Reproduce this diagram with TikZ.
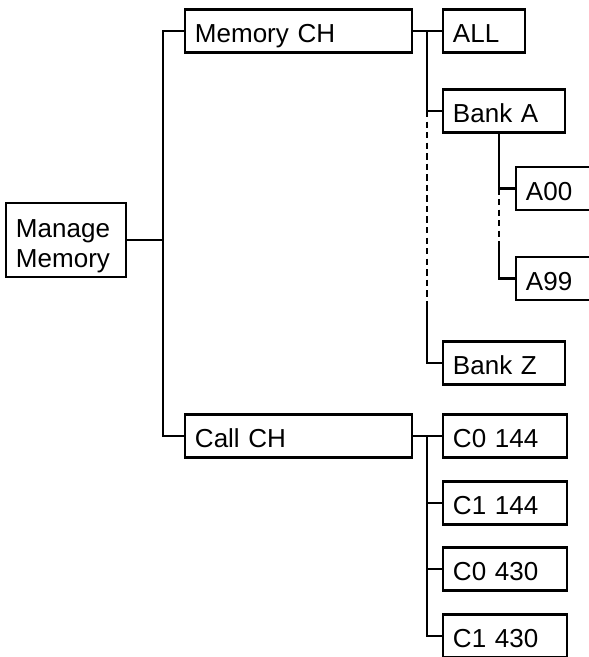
\documentclass[tikz,border=0pt]{standalone}
\usepackage{fontspec}
\setmainfont{Liberation Sans}
\usepackage{tikz}
\usetikzlibrary{positioning}
\tikzset{
    % Box styles - plain black frames, text flush left
    membox/.style={
        rectangle,
        draw=black,
        line width=1.9pt,
        inner xsep=0.25cm,
        inner ysep=0pt,
        text width=#1,
        minimum height=1.075cm,
        align=left,
        font=\fontsize{18.5}{21.5}\selectfont
    },
    membox/.default=2.55cm,
    oneline/.style={
        text height=16.5pt,
        text depth=0pt
    },
    % Connector styles
    treeline/.style={
        draw=black,
        line width=1.9pt
    },
    gapline/.style={
        treeline,
        dash pattern=on 4.5pt off 3pt
    }
}
\begin{document}
\begin{tikzpicture}[x=0.025cm, y=-0.025cm]
    \useasboundingbox (0,0) rectangle (589,657);
    \clip (0,0) rectangle (589,657);

    \node[membox=2.5cm, minimum height=1.85cm] (mng) at (66,240) {\rule{0pt}{21.5pt}Manage\\Memory};

    \node[membox=5.175cm, oneline] (memch) at (298.5,31) {Memory CH};
    \node[membox=5.175cm, oneline] (callch) at (298.5,436) {Call CH};

    \node[membox=1.55cm, oneline] (all) at (484,31) {ALL};
    \node[membox, oneline] (banka) at (504,111) {Bank A};
    \node[membox, oneline] (a00) at (577,188.5) {A00};
    \node[membox, oneline] (a99) at (577,278.5) {A99};
    \node[membox, oneline] (bankz) at (504,363) {Bank Z};

    \node[membox=2.6cm, oneline] (c0a) at (505,436) {C0 144};
    \node[membox=2.6cm, oneline] (c1a) at (505,503) {C1 144};
    \node[membox=2.6cm, oneline] (c0b) at (505,569) {C0 430};
    \node[membox=2.6cm, oneline] (c1b) at (505,636) {C1 430};

    \coordinate (mtrunk) at (163,240);
    \coordinate (mfork) at (427,31);
    \coordinate (mgap) at (427,305);
    \coordinate (afork) at (499,245);
    \coordinate (cfork) at (427,436);

    % top level
    \draw[treeline] (mng.east) -- (mtrunk);
    \draw[treeline] (memch.west) -| (mtrunk) |- (callch.west);

    % memory channels
    \draw[treeline] (memch.east) -- (all.west);
    \draw[treeline] (mfork) |- (banka.west);
    \draw[gapline] (banka.west -| mfork) -- (mgap);
    \draw[treeline] (mgap) |- (bankz.west);

    % bank A
    \draw[treeline] (banka.south -| afork) |- (a00.west);
    \draw[gapline] (a00.west -| afork) -- (afork);
    \draw[treeline] (afork) |- (a99.west);

    % call channels
    \draw[treeline] (callch.east) -- (c0a.west);
    \draw[treeline] (cfork) |- (c1b.west);
    \draw[treeline] (cfork |- c1a.west) -- (c1a.west);
    \draw[treeline] (cfork |- c0b.west) -- (c0b.west);
\end{tikzpicture}
\end{document}
